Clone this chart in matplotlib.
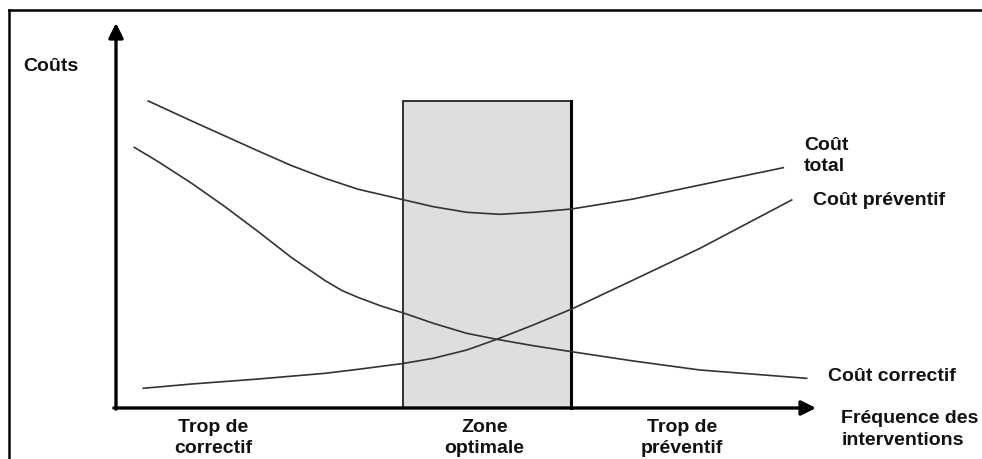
import matplotlib
matplotlib.use("Agg")
import matplotlib.pyplot as plt
from matplotlib.lines import Line2D

plt.rcParams['font.family'] = ['Liberation Sans', 'DejaVu Sans']

# frequence des interventions (0-100) / couts (0-100)
x_total = [4.61, 10.81, 15.57, 20.33, 25.10, 29.86, 34.61, 41.19, 45.33, 50.10,
           54.86, 59.61, 65.10, 73.90, 83.43, 95.33]
y_total = [79.74, 74.55, 70.65, 66.75, 62.94, 59.66, 56.81, 54.03, 52.29, 50.83,
           50.31, 50.83, 51.69, 54.29, 57.92, 62.42]

x_corr = [2.61, 6.04, 10.81, 15.57, 20.33, 25.10, 29.86, 32.24, 34.61, 37.86, 41.19, 45.33,
          50.10, 54.39, 59.61, 65.10, 73.90, 83.43, 98.67]
y_corr = [67.71, 63.97, 58.36, 52.29, 45.79, 39.04, 33.10, 30.55, 28.70, 26.50, 24.60, 22.00,
          19.40, 17.84, 16.18, 14.62, 12.21, 9.87, 7.71]

x_prev = [3.90, 10.81, 20.33, 29.86, 34.61, 41.19, 45.33, 50.10, 54.39, 59.61,
          65.10, 73.90, 83.43, 96.53]
y_prev = [5.12, 6.23, 7.53, 9.01, 10.05, 11.61, 12.91, 15.06, 17.84, 21.56,
          25.71, 33.25, 41.48, 54.03]

zone_start = 41.0
zone_width = 24.0
zone_height = 79.7

zone_labels = ['Trop de\ncorrectif', 'Zone\noptimale', 'Trop de\npréventif']
zone_label_x = [13.9, 52.6, 80.9]

fig = plt.figure(figsize=(9.82, 4.59), dpi=100)
ax = fig.add_axes([0, 0, 1, 1])
ax.set_xlim(-16.571, 123.714)
ax.set_ylim(-13.247, 105.974)
ax.axis('off')

# zone optimale
ax.bar(zone_start, zone_height, width=zone_width, align='edge',
       color='#dedede', edgecolor='#222222', linewidth=1.3, zorder=1)
ax.plot([zone_start + zone_width] * 2, [0, zone_height], color='black', lw=2.2, zorder=2)

# courbes
ax.plot(x_total, y_total, color='#333333', lw=1.2, zorder=3)
ax.plot(x_prev, y_prev, color='#333333', lw=1.2, zorder=3)
ax.plot(x_corr, y_corr, color='#333333', lw=1.2, zorder=3)

# axes avec fleches
arrow = dict(arrowstyle='-|>', lw=2.4, color='black', mutation_scale=22, shrinkA=0, shrinkB=0)
ax.annotate('', xy=(0, 100), xytext=(0, -0.3), arrowprops=arrow, zorder=4)
ax.annotate('', xy=(100, 0), xytext=(-0.3, 0), arrowprops=arrow, zorder=4)

fs = 14
tc = '#111111'
ls = 1.32
ax.text(-13.3, 88.8, 'Coûts', fontsize=fs, fontweight='bold', color=tc, va='center')
ax.text(98.3, 65.4, 'Coût\ntotal', fontsize=fs, fontweight='bold', color=tc, va='center', linespacing=ls)
ax.text(99.6, 53.8, 'Coût préventif', fontsize=fs, fontweight='bold', color=tc, va='center')
ax.text(101.7, 8.3, 'Coût correctif', fontsize=fs, fontweight='bold', color=tc, va='center')
ax.text(103.6, -5.6, 'Fréquence des\ninterventions', fontsize=fs, fontweight='bold', color=tc,
        va='center', linespacing=ls)
for lab, xl in zip(zone_labels, zone_label_x):
    ax.text(xl, -7.8, lab, fontsize=fs, fontweight='bold', color=tc, ha='center', va='center',
            linespacing=ls)

# cadre
fig.add_artist(Line2D([9 / 982, 9 / 982], [0, 1 - 10 / 459], transform=fig.transFigure, color='black', lw=1.8))
fig.add_artist(Line2D([9 / 982, 1], [1 - 10 / 459, 1 - 10 / 459], transform=fig.transFigure, color='black', lw=1.8))

fig.savefig('out.png', dpi=100)
